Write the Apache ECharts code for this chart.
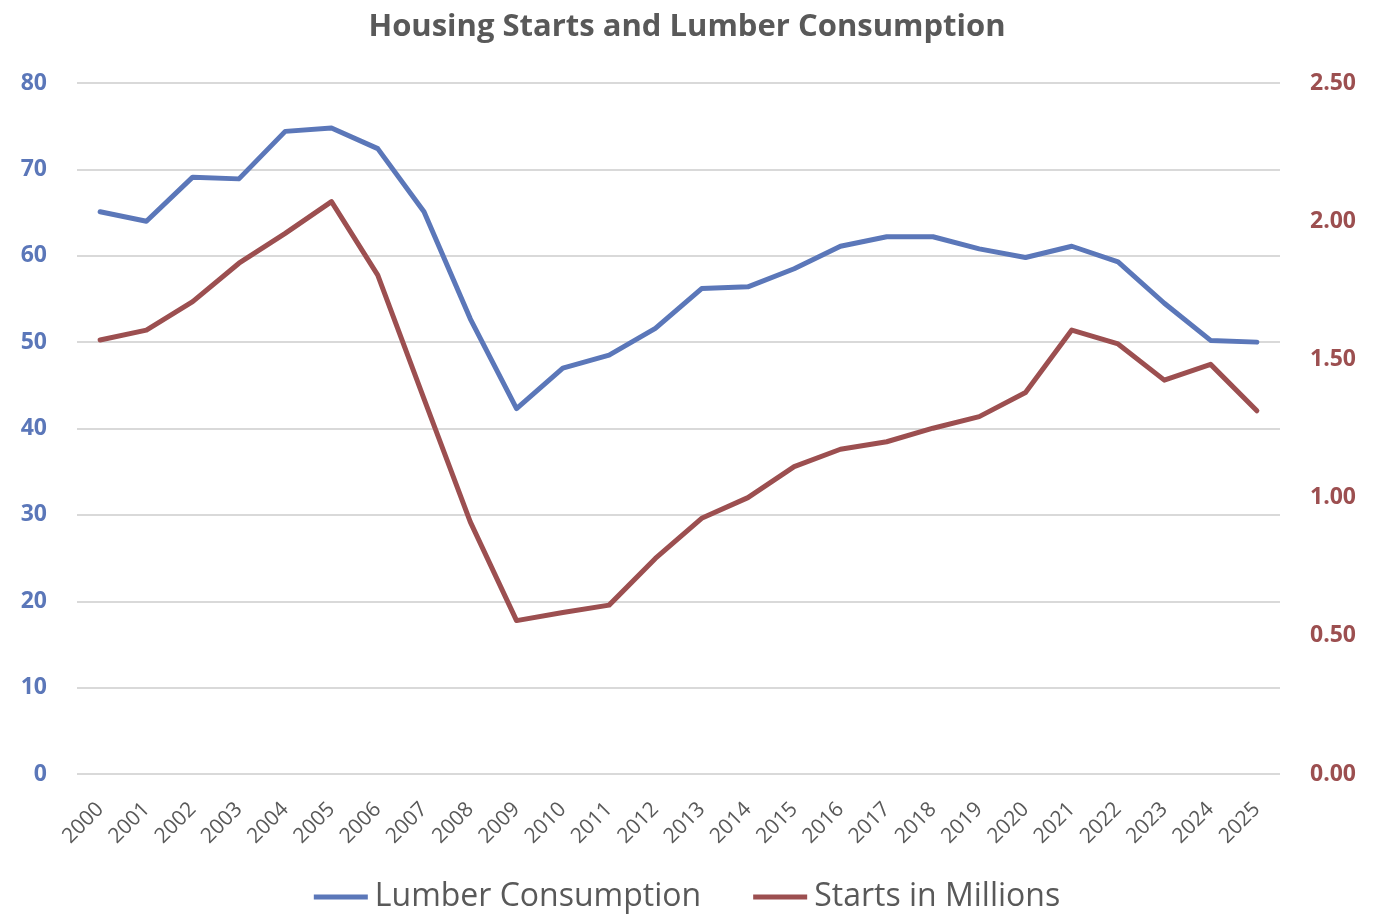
<!DOCTYPE html>
<html>
<head>
<meta charset="utf-8">
<script src="https://cdn.jsdelivr.net/npm/echarts@6/dist/echarts.min.js"></script>
<style>
  html, body { margin: 0; padding: 0; background: #fff; }
  #chart { width: 1374px; height: 915px; }
</style>
</head>
<body>
<div id="chart"></div>
<script>
var years = ['2000', '2001', '2002', '2003', '2004', '2005', '2006', '2007', '2008', '2009',
    '2010', '2011', '2012', '2013', '2014', '2015', '2016', '2017', '2018', '2019',
    '2020', '2021', '2022', '2023', '2024', '2025'];
var lumber = [65.1, 64.0, 69.1, 68.9, 74.4, 74.8, 72.4, 65.1, 52.7, 42.3,
    47.0, 48.5, 51.6, 56.2, 56.4, 58.5, 61.1, 62.2, 62.2, 60.8,
    59.8, 61.1, 59.3, 54.5, 50.2, 50.0];
var starts = [1.57, 1.606, 1.709, 1.848, 1.956, 2.071, 1.805, 1.357, 0.912, 0.555,
    0.584, 0.611, 0.78, 0.925, 1.0, 1.112, 1.175, 1.202, 1.251, 1.293,
    1.38, 1.606, 1.556, 1.425, 1.482, 1.314];

var blue = '#5b77b9',
    red = '#9c4f50',
    grey = '#595959'

var chart = echarts.init(document.getElementById('chart'));
var option = {
    animation: false,
    title: {
        text: 'Housing Starts and Lumber Consumption',
        left: 'center',
        top: 7,
        textStyle: {
            fontFamily: 'Open Sans',
            fontWeight: 'bold',
            fontSize: 31,
            color: grey
        }
    },
    legend: {
        top: 876,
        left: 'center',
        itemWidth: 54,
        itemHeight: 5,
        itemGap: 52,
        icon: 'rect',
        textStyle: {
            fontFamily: 'Open Sans',
            fontSize: 32,
            color: grey,
            padding: [0, 0, 0, 2]
        },
        data: ['Lumber Consumption', 'Starts in Millions']
    },
    grid: {
        left: 77,
        right: 94,
        top: 83,
        bottom: 141
    },
    xAxis: {
        type: 'category',
        data: years,
        boundaryGap: true,
        axisLine: { show: false },
        axisTick: { show: false },
        axisLabel: {
            rotate: 45,
            margin: 32,
            fontFamily: 'Open Sans',
            fontSize: 21,
            color: grey
        }
    },
    yAxis: [
        {
            type: 'value',
            min: 0,
            max: 80,
            interval: 10,
            axisLine: { show: false },
            axisTick: { show: false },
            axisLabel: {
                margin: 30,
                fontFamily: 'Open Sans',
                fontWeight: 'bold',
                fontSize: 23,
                color: blue
            },
            splitLine: { lineStyle: { color: '#d9d9d9', width: 2 } }
        },
        {
            type: 'value',
            min: 0,
            max: 2.5,
            interval: 0.5,
            axisLine: { show: false },
            axisTick: { show: false },
            axisLabel: {
                margin: 30,
                fontFamily: 'Open Sans',
                fontWeight: 'bold',
                fontSize: 23,
                color: red,
                formatter: function (v) { return v.toFixed(2); }
            },
            splitLine: { show: false }
        }
    ],
    series: [
        {
            name: 'Lumber Consumption',
            type: 'line',
            yAxisIndex: 0,
            data: lumber,
            showSymbol: false,
            lineStyle: { color: blue, width: 5, cap: 'round', join: 'round' },
            itemStyle: { color: blue }
        },
        {
            name: 'Starts in Millions',
            type: 'line',
            yAxisIndex: 1,
            data: starts,
            showSymbol: false,
            lineStyle: { color: red, width: 5, cap: 'round', join: 'round' },
            itemStyle: { color: red }
        }
    ]
};
chart.setOption(option);
</script>
</body>
</html>
